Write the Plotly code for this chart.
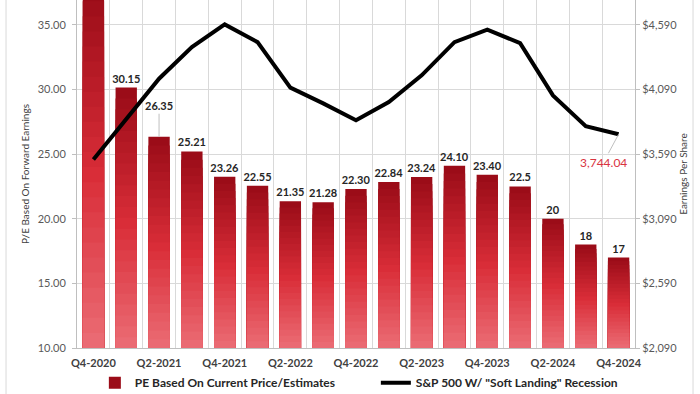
import plotly.graph_objects as go

quarters = ["Q4-2020", "Q1-2021", "Q2-2021", "Q3-2021", "Q4-2021", "Q1-2022", "Q2-2022",
            "Q3-2022", "Q4-2022", "Q1-2023", "Q2-2023", "Q3-2023", "Q4-2023", "Q1-2024",
            "Q2-2024", "Q3-2024", "Q4-2024"]
pe_values = [38.0, 30.15, 26.35, 25.21, 23.26, 22.55, 21.35, 21.28, 22.30, 22.84, 23.24,
             24.10, 23.40, 22.5, 20, 18, 17]
pe_labels = ["", "30.15", "", "25.21", "23.26", "22.55", "21.35", "21.28", "22.30", "22.84",
             "23.24", "24.10", "23.40", "22.5", "20", "18", "17"]
sp500_values = [3548, 3860, 4174, 4418, 4594, 4457, 4105, 3983, 3852, 3993, 4200, 4457,
                4553, 4449, 4045, 3806, 3744.04]
tick_labels = [q if i % 2 == 0 else "" for i, q in enumerate(quarters)]
left_ticks = [10, 15, 20, 25, 30, 35]
right_ticks = [2090, 2590, 3090, 3590, 4090, 4590]
right_tick_labels = ["$2,090", "$2,590", "$3,090", "$3,590", "$4,090", "$4,590"]

FONT = "Lato"
LEFT_MIN, LEFT_MAX = 10, 36.93
RIGHT_MIN = 2090
RIGHT_MAX = RIGHT_MIN + (LEFT_MAX - LEFT_MIN) * 100

def lerp(c1, c2, t):
    return "rgb(%d,%d,%d)" % tuple(round(a + (b - a) * t) for a, b in zip(c1, c2))

top_c = (155, 12, 24)
mid_c = (217, 45, 56)
bot_c = (236, 112, 120)

def grad(f):  # f: 1 at top, 0 at bottom
    if f >= 0.5:
        return lerp(mid_c, top_c, (f - 0.5) / 0.5)
    return lerp(bot_c, mid_c, f / 0.5)

fig = go.Figure()
N = 24
for k in range(N):
    f = 1 - k / N
    ys = [LEFT_MIN + (v - LEFT_MIN) * f for v in pe_values]
    fig.add_trace(go.Bar(
        x=quarters, y=ys,
        marker=dict(color=grad(f), line=dict(width=0)),
        name="PE Based On Current Price/Estimates",
        showlegend=(k == 0),
        legendrank=1,
        text=pe_labels if k == 0 else None,
        textposition="outside" if k == 0 else "none",
        constraintext="none",
        textfont=dict(family=FONT, size=11, color="#262626", weight="bold"),
        hoverinfo="skip" if k else None,
        cliponaxis=False if k == 0 else True,
    ))

fig.add_trace(go.Scatter(
    x=quarters, y=sp500_values, yaxis="y2", mode="lines",
    line=dict(color="black", width=4),
    name='S&P 500 W/ "Soft Landing" Recession',
    legendrank=2,
))

fig.add_annotation(x=quarters[2], y=pe_values[2], xref="x", yref="y", text="26.35",
                   showarrow=True, arrowhead=0, arrowwidth=1, arrowcolor="#bfbfbf",
                   ax=0, ay=-31, font=dict(family=FONT, size=11, color="#262626", weight="bold"))
fig.add_annotation(x=quarters[-1], y=sp500_values[-1], xref="x", yref="y2", text="3,744.04",
                   showarrow=True, arrowhead=0, arrowwidth=1, arrowcolor="#bfbfbf",
                   ax=-15, ay=28, font=dict(family=FONT, size=12, color="#d9343f"))

fig.add_shape(type="rect", xref="paper", yref="paper", x0=-0.1272, x1=1.104, y0=-0.2, y1=1.1,
              line=dict(color="#d9d9d9", width=1), fillcolor="rgba(0,0,0,0)", layer="below")

fig.update_layout(
    width=700, height=394,
    margin=dict(l=77, r=65, t=0, b=46, autoexpand=False),
    paper_bgcolor="white", plot_bgcolor="white",
    barmode="overlay", bargap=0.35,
    font=dict(family=FONT, size=11, color="#595959"),
    xaxis=dict(type="category", tickvals=quarters, ticktext=tick_labels, tickson="boundaries",
               tickangle=0, automargin=False, ticklabelstandoff=5,
               showgrid=True, gridcolor="#d9d9d9", gridwidth=1, ticks="",
               showline=True, linecolor="#bfbfbf",
               tickfont=dict(family=FONT, size=11, color="#404040", weight="bold")),
    yaxis=dict(range=[LEFT_MIN, LEFT_MAX], tickvals=left_ticks, tickformat=".2f",
               automargin=False, ticklabelstandoff=4,
               showgrid=True, gridcolor="#d9d9d9", zeroline=False,
               showline=True, linecolor="#bfbfbf", ticks="outside", ticklen=4,
               tickcolor="#bfbfbf",
               title=dict(text="P/E Based On Forward Earnings", font=dict(size=10, color="#404040"),
                          standoff=6),
               tickfont=dict(size=11, color="#595959")),
    yaxis2=dict(range=[RIGHT_MIN, RIGHT_MAX], tickvals=right_ticks, ticktext=right_tick_labels,
                overlaying="y", side="right", showgrid=False, zeroline=False,
                automargin=False,
                showline=True, linecolor="#bfbfbf", ticks="outside", ticklen=4,
                tickcolor="#bfbfbf",
                title=dict(text="Earnings Per Share", font=dict(size=10, color="#404040"),
                           standoff=2),
                tickfont=dict(size=11, color="#595959")),
    legend=dict(orientation="h", x=0.032, xanchor="left", y=-0.1, yanchor="middle",
                font=dict(family=FONT, size=12, color="#262626", weight="bold"),
                itemwidth=30, entrywidth=236, entrywidthmode="pixels",
                bgcolor="rgba(0,0,0,0)"),
    showlegend=True,
)

fig.write_html("out.html", config={"displayModeBar": False},
               post_script="document.body.style.margin='0px';")
